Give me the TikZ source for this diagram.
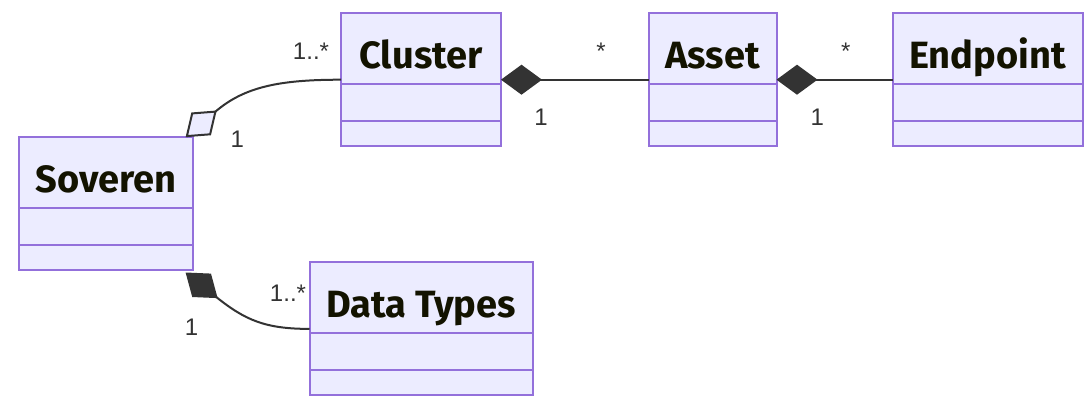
\documentclass[tikz,border=0pt]{standalone}
\usepackage{fontspec}
\setmainfont{Fira Sans}
\newfontfamily\multfont{Liberation Sans}
\usepackage{tikz}
\usetikzlibrary{arrows.meta}
\definecolor{clsfill}{HTML}{ECECFF}
\definecolor{clsline}{HTML}{9370DB}
\definecolor{edgecol}{HTML}{333333}
\definecolor{titlecol}{HTML}{131300}

\tikzset{
  klass/.style={draw=clsline, fill=clsfill, line width=2pt, minimum height=133pt, inner sep=0pt, outer sep=0pt},
  clstitle/.style={anchor=base, inner sep=0pt, text=titlecol, font=\fontsize{38}{40}\selectfont\bfseries},
  mult/.style={anchor=base, inner sep=0pt, text=edgecol, font=\multfont\fontsize{24}{26}\selectfont},
  rel/.style={draw=edgecol, line width=2pt},
  comp/.style={rel, {Diamond[length=41pt,width=30pt,fill=edgecol]}-},
  aggr/.style={rel, {Diamond[length=41pt,width=30pt,open,fill=clsfill]}-},
}

\begin{document}
\begin{tikzpicture}[x=1pt,y=-1pt]
\useasboundingbox (0,0) rectangle (1092,407);

\node[klass, minimum width=174pt] (soveren) at (106.2,203.7) {};
\node[klass, minimum width=160pt] (cluster) at (421,79.7) {};
\node[klass, minimum width=128pt] (asset) at (712.5,79.7) {};
\node[klass, minimum width=190pt] (endpoint) at (987.5,79.7) {};
\node[klass, minimum width=223pt] (types) at (421,328.9) {};

\foreach \n/\t in {soveren/Soveren,cluster/Cluster,asset/Asset,endpoint/Endpoint,types/Data Types}{
  \node[clstitle] (\n-t) at ([yshift=-55pt]\n.north) {\t};
  \draw[clsline, line width=2pt] ([yshift=-71pt]\n.north west) -- ([yshift=-71pt]\n.north east)
    ([yshift=25pt]\n.south west) -- ([yshift=25pt]\n.south east);
}

\draw[comp] (cluster.east) -- (asset.west);
\draw[comp] (asset.east) -- (endpoint.west);
\draw[aggr] ([xshift=-7.6pt]soveren.north east) .. controls (244.6,86.6) and (280,79.7) .. (cluster.west);
\draw[comp] ([xshift=-7.6pt,yshift=-2.3pt]soveren.south east) .. controls (245,320) and (265,328.9) .. (types.west);

\node[mult] (m1) at (311,59) {1..*};
\node[mult] (m2) at (237.3,147.3) {1};
\node[mult] (m3) at (601,59) {*};
\node[mult] (m4) at (541,125) {1};
\node[mult] (m5) at (845.7,59) {*};
\node[mult] (m6) at (817.3,125) {1};
\node[mult] (m7) at (288,301.7) {1..*};
\node[mult] (m8) at (191.5,335) {1};

\end{tikzpicture}
\end{document}
